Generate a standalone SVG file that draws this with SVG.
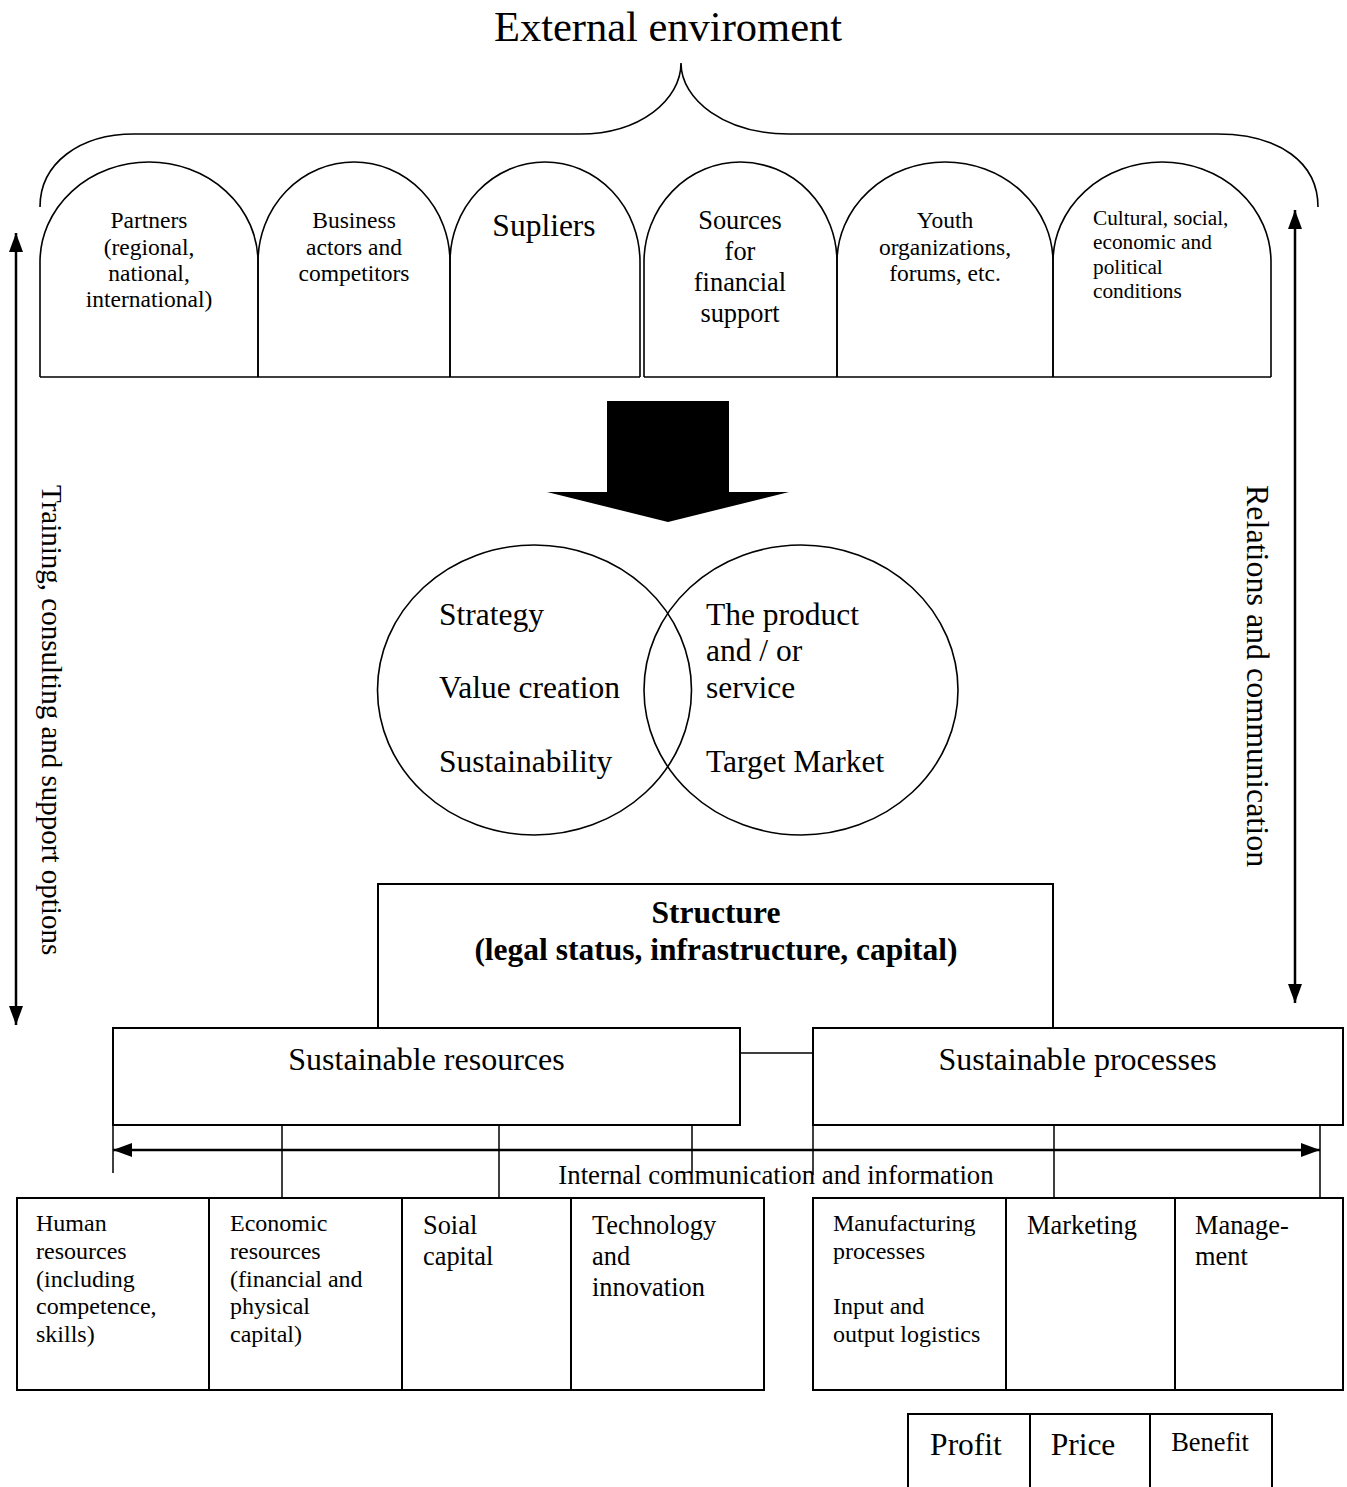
<svg xmlns="http://www.w3.org/2000/svg" width="1347" height="1487" viewBox="0 0 1347 1487">
<style>
text{font-family:"Liberation Serif","Times New Roman",serif;fill:#000}
.m{text-anchor:middle}
.s{stroke:#000;fill:none;stroke-width:1.6}
.b{stroke:#000;fill:#fff;stroke-width:2}
.c{stroke:#000;fill:none;stroke-width:1.5}
.a{stroke:#000;fill:none;stroke-width:2.5}
.f23{font-size:23.5px}.f21{font-size:21.3px}.f24{font-size:24px}.f26{font-size:26.4px}.f27{font-size:26.8px}.f29{font-size:29px}.f31{font-size:31.5px}.f41{font-size:42.5px}
.bold{font-weight:bold}
</style>
<defs>
<marker id="ah" markerUnits="userSpaceOnUse" markerWidth="19" markerHeight="14" refX="19" refY="7" orient="auto-start-reverse"><path d="M0,0 L19,7 L0,14 z" fill="#000"/></marker>
</defs>
<rect width="1347" height="1487" fill="#fff"/>
<g id="title"><text class="m f41" x="668" y="41">External enviroment</text></g>
<g id="brace"><path class="s" d="M40,207 C40,163 80,134 134,134 H580 C640,134 681,100 681,63 C681,100 725,134 789,134 H1217 C1280,134 1318,163 1318,207"/></g>
<g id="arches">
<path class="s" d="M40,377 H640 M644,377 H1271"/>
<g id="arch-partners"><path class="s" d="M40,377 V262 A109,100 0 0 1 258,262 V377"/>
<text class="m f23" x="149" y="228">Partners</text><text class="m f23" x="149" y="255">(regional,</text><text class="m f23" x="149" y="281">national,</text><text class="m f23" x="149" y="307">international)</text></g>
<g id="arch-business"><path class="s" d="M258,377 V262 A96,100 0 0 1 450,262 V377"/>
<text class="m f23" x="354" y="228">Business</text><text class="m f23" x="354" y="255">actors and</text><text class="m f23" x="354" y="281">competitors</text></g>
<g id="arch-supliers"><path class="s" d="M450,377 V262 A95,100 0 0 1 640,262 V377"/>
<text class="m f31" x="544" y="236">Supliers</text></g>
<g id="arch-sources"><path class="s" d="M644,377 V262 A96.5,100 0 0 1 837,262 V377"/>
<text class="m f26" x="740" y="229">Sources</text><text class="m f26" x="740" y="260">for</text><text class="m f26" x="740" y="291">financial</text><text class="m f26" x="740" y="322">support</text></g>
<g id="arch-youth"><path class="s" d="M837,377 V262 A108,100 0 0 1 1053,262 V377"/>
<text class="m f23" x="945" y="228">Youth</text><text class="m f23" x="945" y="255">organizations,</text><text class="m f23" x="945" y="281">forums, etc.</text></g>
<g id="arch-cultural"><path class="s" d="M1053,377 V262 A109,100 0 0 1 1271,262 V377"/>
<text class="f21" x="1093" y="225">Cultural, social,</text><text class="f21" x="1093" y="249">economic and</text><text class="f21" x="1093" y="274">political</text><text class="f21" x="1093" y="298">conditions</text></g>
</g>
<g id="venn">
<g id="circle-left"><ellipse class="s" cx="534.5" cy="690" rx="157" ry="145"/>
<text class="f31" x="439" y="625">Strategy</text><text class="f31" x="439" y="698">Value creation</text><text class="f31" x="439" y="772">Sustainability</text></g>
<g id="circle-right"><ellipse class="s" cx="801" cy="690" rx="157" ry="145"/>
<text class="f31" x="706" y="625">The product</text><text class="f31" x="706" y="661">and / or</text><text class="f31" x="706" y="698">service</text><text class="f31" x="706" y="772">Target Market</text></g>
</g>
<g id="structure"><path class="b" d="M378,1028 V884 H1053 V1028"/>
<text class="m f31 bold" x="716" y="923">Structure</text><text class="m f31 bold" x="716" y="960">(legal status, infrastructure, capital)</text></g>
<g id="resources"><rect class="b" x="113" y="1028" width="627" height="97"/><text class="m f31" x="426.5" y="1070" style="font-size:32px">Sustainable resources</text></g>
<g id="processes"><rect class="b" x="813" y="1028" width="530" height="97"/><text class="m f31" x="1077.5" y="1070" style="font-size:32px">Sustainable processes</text></g>
<g id="connectors">
<polygon points="607,401 729,401 729,492 789,492 668,522 547,492 607,492" fill="#000"/>
<line class="a" x1="16" y1="233" x2="16" y2="1025" marker-start="url(#ah)" marker-end="url(#ah)"/>
<line class="a" x1="1295" y1="210" x2="1295" y2="1003" marker-start="url(#ah)" marker-end="url(#ah)"/>
<line class="a" x1="113" y1="1150" x2="1320" y2="1150" marker-start="url(#ah)" marker-end="url(#ah)"/>
<path class="c" d="M740,1053 H813 M113,1125 V1173 M282,1125 V1198 M499,1125 V1198 M692,1125 V1173 M813,1125 V1175 M1054,1125 V1198 M1320,1125 V1198"/>
</g>
<g id="label-training"><text class="f29" transform="translate(42,485) rotate(90)">Training, consulting and support options</text></g>
<g id="label-relations"><text class="f31" style="font-size:32px" transform="translate(1247,485) rotate(90)">Relations and communication</text></g>
<g id="label-internal"><text class="m f27" x="776" y="1184">Internal communication and information</text></g>
<g id="res-boxes">
<g id="human"><rect class="b" x="17" y="1198" width="192" height="192"/>
<text class="f24" x="36" y="1231">Human</text><text class="f24" x="36" y="1259">resources</text><text class="f24" x="36" y="1287">(including</text><text class="f24" x="36" y="1314">competence,</text><text class="f24" x="36" y="1342">skills)</text></g>
<g id="economic"><rect class="b" x="209" y="1198" width="193" height="192"/>
<text class="f24" x="230" y="1231">Economic</text><text class="f24" x="230" y="1259">resources</text><text class="f24" x="230" y="1287">(financial and</text><text class="f24" x="230" y="1314">physical</text><text class="f24" x="230" y="1342">capital)</text></g>
<g id="social"><rect class="b" x="402" y="1198" width="169" height="192"/>
<text class="f26" x="423" y="1234">Soial</text><text class="f26" x="423" y="1265">capital</text></g>
<g id="technology"><rect class="b" x="571" y="1198" width="193" height="192"/>
<text class="f26" x="592" y="1234">Technology</text><text class="f26" x="592" y="1265">and</text><text class="f26" x="592" y="1296">innovation</text></g>
</g>
<g id="proc-boxes">
<g id="manufacturing"><rect class="b" x="813" y="1198" width="193" height="192"/>
<text class="f24" x="833" y="1231">Manufacturing</text><text class="f24" x="833" y="1259">processes</text><text class="f24" x="833" y="1314">Input and</text><text class="f24" x="833" y="1342">output logistics</text></g>
<g id="marketing"><rect class="b" x="1006" y="1198" width="169" height="192"/>
<text class="f26" x="1027" y="1234">Marketing</text></g>
<g id="management"><rect class="b" x="1175" y="1198" width="168" height="192"/>
<text class="f26" x="1195" y="1234">Manage-</text><text class="f26" x="1195" y="1265">ment</text></g>
</g>
<g id="outcomes">
<g id="profit"><path class="b" d="M908,1490 V1414 H1030 V1490"/><text class="m f31" x="966" y="1455">Profit</text></g>
<g id="price"><path class="b" d="M1030,1490 V1414 H1150 V1490"/><text class="m f31" x="1083" y="1455">Price</text></g>
<g id="benefit"><path class="b" d="M1150,1490 V1414 H1272 V1490"/><text class="m f26" x="1210" y="1451">Benefit</text></g>
</g>
</svg>
